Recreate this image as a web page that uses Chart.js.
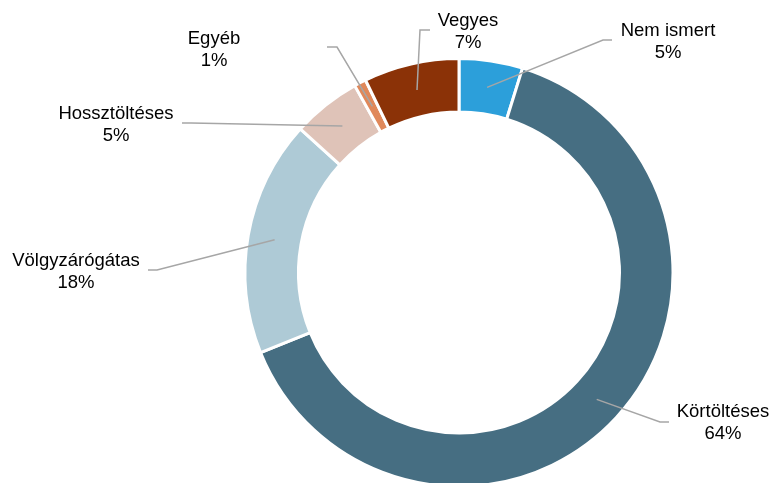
<!DOCTYPE html>
<html>
<head>
<meta charset="utf-8">
<script src="https://cdn.jsdelivr.net/npm/chart.js@4.4.1/dist/chart.umd.min.js"></script>
<style>
  html, body { margin: 0; padding: 0; background: #fff; }
  #wrap { width: 771px; height: 483px; position: relative; }
</style>
</head>
<body>
<div id="wrap"><canvas id="chart-gatak"></canvas></div>
<script>
/* ── Adatok ── */
const kategoriak = ['Nem ismert', 'Körtöltéses', 'Völgyzárógátas', 'Hossztöltéses', 'Egyéb', 'Vegyes'];
const aranyok    = [4.8, 64.1, 17.8, 5.2, 0.9, 7.2];
const szinek     = ['#2c9fda', '#466e82', '#aecad6', '#dfc3b8', '#e0885a', '#8b3207'];

// címke helyek: könyök, vonal vége, szöveg közepe (px)
const cimkeHely = [
  { konyok: [603, 40],  veg: [612, 40],  szoveg: [668, 31] },
  { konyok: [660, 422], veg: [669, 422], szoveg: [723, 412] },
  { konyok: [157, 270], veg: [148, 270], szoveg: [76, 261] },
  { konyok: [191, 123], veg: [182, 123], szoveg: [116, 114] },
  { konyok: [337, 47],  veg: [327, 47],  szoveg: [214, 39] },
  { konyok: [420, 30],  veg: [430, 30],  szoveg: [468, 21] },
];

/* ── Vezetővonalas címkék ── */
const leaderLabels = {
  id: 'leaderLabels',
  afterDatasetsDraw(chart) {
    const ctx  = chart.ctx;
    const arcs = chart.getDatasetMeta(0).data;
    ctx.save();
    arcs.forEach((arc, i) => {
      const p = arc.getCenterPoint();
      const h = cimkeHely[i];
      ctx.beginPath();
      ctx.moveTo(p.x, p.y);
      ctx.lineTo(h.konyok[0], h.konyok[1]);
      ctx.lineTo(h.veg[0], h.veg[1]);
      ctx.strokeStyle = '#a6a6a6';
      ctx.lineWidth = 1.5;
      ctx.stroke();

      ctx.fillStyle = '#000';
      ctx.font = '18.5px "Liberation Sans", Arial, sans-serif';
      ctx.textAlign = 'center';
      ctx.textBaseline = 'middle';
      ctx.fillText(kategoriak[i], h.szoveg[0], h.szoveg[1]);
      ctx.fillText(Math.round(aranyok[i]) + '%', h.szoveg[0], h.szoveg[1] + 22);
    });
    ctx.restore();
  }
};

const ctx = document.getElementById('chart-gatak').getContext('2d');
new Chart(ctx, {
  type: 'doughnut',
  data: {
    labels: kategoriak,
    datasets: [{
      data: aranyok,
      backgroundColor: szinek,
      borderColor: '#ffffff',
      borderWidth: 3,
    }],
  },
  options: {
    responsive: true,
    maintainAspectRatio: false,
    animation: false,
    radius: 214,
    cutout: '75%',
    layout: { padding: { left: 147, right: 0, top: 62, bottom: 0 } },
    plugins: {
      legend: { display: false },
      tooltip: { enabled: false },
    },
  },
  plugins: [leaderLabels],
});
</script>
</body>
</html>
